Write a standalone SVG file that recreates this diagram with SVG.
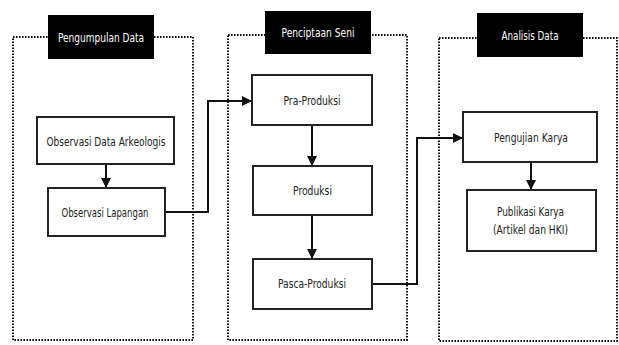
<svg xmlns="http://www.w3.org/2000/svg" width="619" height="345" viewBox="0 0 619 345">
  <style>
    .stage { fill: none; stroke: #111; stroke-width: 2; stroke-dasharray: 1.6 1.4; }
    .head { fill: #000; }
    .head-t { fill: #fff; font-family: "DejaVu Sans Condensed", "DejaVu Sans", sans-serif; font-size: 13px; text-anchor: middle; }
    .box { fill: #fff; stroke: #222; stroke-width: 2; }
    .t { fill: #222; font-family: "DejaVu Sans Condensed", "DejaVu Sans", sans-serif; font-size: 13px; text-anchor: middle; }
    .link { fill: none; stroke: #111; stroke-width: 2; }
  </style>
  <defs>
    <marker id="arrow" viewBox="0 0 10 10" refX="10" refY="5" markerWidth="10" markerHeight="10" markerUnits="userSpaceOnUse" orient="auto">
      <path d="M0,0 L10,5 L0,10 z" fill="#111"/>
    </marker>
  </defs>
  <rect width="619" height="345" fill="#fff"/>

  <!-- stage frames -->
  <g id="stage-pengumpulan">
    <rect class="stage" x="13" y="37" width="180" height="303"/>
    <rect class="head" x="48" y="15" width="106" height="44"/>
    <text class="head-t" x="101" y="42" textLength="86" lengthAdjust="spacingAndGlyphs">Pengumpulan Data</text>
  </g>
  <g id="stage-penciptaan">
    <rect class="stage" x="228" y="35" width="179" height="305"/>
    <rect class="head" x="265" y="11" width="106" height="43"/>
    <text class="head-t" x="318" y="37" textLength="73" lengthAdjust="spacingAndGlyphs">Penciptaan Seni</text>
  </g>
  <g id="stage-analisis">
    <rect class="stage" x="439" y="38" width="178" height="303"/>
    <rect class="head" x="477" y="13" width="106" height="44"/>
    <text class="head-t" x="530" y="40" textLength="57" lengthAdjust="spacingAndGlyphs">Analisis Data</text>
  </g>

  <!-- connectors -->
  <g id="connectors">
    <line class="link" x1="106" y1="164" x2="106" y2="188" marker-end="url(#arrow)"/>
    <polyline class="link" points="165,212 208,212 208,101 252,101" marker-end="url(#arrow)"/>
    <line class="link" x1="312" y1="125" x2="312" y2="166" marker-end="url(#arrow)"/>
    <line class="link" x1="312" y1="215" x2="312" y2="259" marker-end="url(#arrow)"/>
    <polyline class="link" points="372,284 417,284 417,138 463,138" marker-end="url(#arrow)"/>
    <line class="link" x1="531" y1="162" x2="531" y2="190" marker-end="url(#arrow)"/>
  </g>

  <!-- process nodes -->
  <g id="observasi-data-arkeologis">
    <rect class="box" x="37" y="117" width="137" height="47"/>
    <text class="t" x="106" y="146" textLength="119" lengthAdjust="spacingAndGlyphs">Observasi Data Arkeologis</text>
  </g>
  <g id="observasi-lapangan">
    <rect class="box" x="48" y="188" width="117" height="48"/>
    <text class="t" x="105" y="217" textLength="87" lengthAdjust="spacingAndGlyphs">Observasi Lapangan</text>
  </g>
  <g id="pra-produksi">
    <rect class="box" x="252" y="75" width="120" height="50"/>
    <text class="t" x="312" y="105" textLength="57" lengthAdjust="spacingAndGlyphs">Pra-Produksi</text>
  </g>
  <g id="produksi">
    <rect class="box" x="253" y="166" width="119" height="49"/>
    <text class="t" x="312.5" y="195" textLength="39" lengthAdjust="spacingAndGlyphs">Produksi</text>
  </g>
  <g id="pasca-produksi">
    <rect class="box" x="253" y="259" width="119" height="50"/>
    <text class="t" x="312" y="288" textLength="68" lengthAdjust="spacingAndGlyphs">Pasca-Produksi</text>
  </g>
  <g id="pengujian-karya">
    <rect class="box" x="463" y="112" width="134" height="50"/>
    <text class="t" x="531" y="142" textLength="74" lengthAdjust="spacingAndGlyphs">Pengujian Karya</text>
  </g>
  <g id="publikasi-karya">
    <rect class="box" x="467" y="190" width="129" height="61"/>
    <text class="t" x="530.5" y="216" textLength="67" lengthAdjust="spacingAndGlyphs">Publikasi Karya</text>
    <text class="t" x="530.5" y="234" textLength="75" lengthAdjust="spacingAndGlyphs">(Artikel dan HKI)</text>
  </g>
</svg>
